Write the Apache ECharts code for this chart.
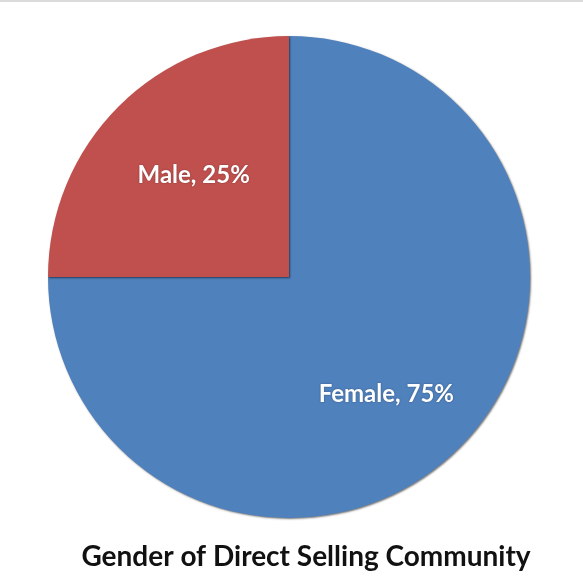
<!DOCTYPE html>
<html>
<head>
<meta charset="utf-8">
<script src="https://cdn.jsdelivr.net/npm/echarts@6/dist/echarts.min.js"></script>
<style>
html,body{margin:0;padding:0;background:#fff;}
#chart{width:583px;height:584px;}
</style>
</head>
<body>
<div id="chart"></div>
<script>
var categories = ['Female', 'Male'];
var shares = [75, 25];
var sliceColors = ['#4F81BD', '#C0504D'];
var titleText = 'Gender of Direct Selling Community';

var labelOffsets = [[10, 30], [-8, -14]];

var chart = echarts.init(document.getElementById('chart'), null, {renderer: 'canvas'});
chart.setOption({
  animation: false,
  title: {
    text: titleText,
    left: 301,
    textAlign: 'center',
    top: 538,
    textStyle: {fontFamily: 'Lato', fontWeight: 'bold', fontSize: 28, color: '#111'}
  },
  graphic: [{
    type: 'line',
    shape: {x1: 0, y1: 1, x2: 583, y2: 1},
    style: {stroke: '#cfcfcf', lineWidth: 1.5}
  }],
  series: [{
    type: 'pie',
    center: [289, 277],
    radius: [0, 241],
    startAngle: 90,
    clockwise: true,
    label: {
      show: true,
      position: 'inside',
      formatter: '{b}, {c}%',
      color: '#fff',
      fontFamily: 'Lato',
      fontWeight: 'bold',
      fontSize: 24,
      textShadowColor: 'rgba(0,0,0,0.35)',
      textShadowBlur: 2
    },
    labelLine: {show: false},
    itemStyle: {
      borderWidth: 0,
      shadowColor: 'rgba(0,0,0,0.55)',
      shadowBlur: 2,
      shadowOffsetX: 1,
      shadowOffsetY: 1
    },
    emphasis: {disabled: true},
    data: categories.map(function (c, i) {
      return {
        name: c,
        value: shares[i],
        itemStyle: {color: sliceColors[i]},
        label: {offset: labelOffsets[i]}
      };
    })
  }]
});
</script>
</body>
</html>
